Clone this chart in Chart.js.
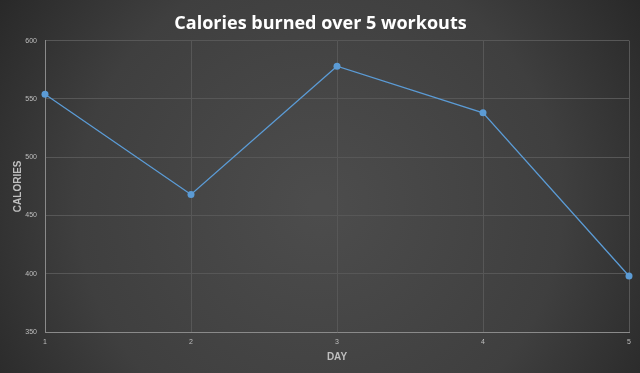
<!DOCTYPE html>
<html><head><meta charset="utf-8">
<script src="https://cdn.jsdelivr.net/npm/chart.js@4/dist/chart.umd.min.js"></script>
<style>html,body{margin:0;padding:0;background:#333;}#wrap{width:640px;height:373px;position:relative;}</style>
</head><body><div id="wrap"><canvas id="c" width="640" height="373"></canvas></div>
<script>
const days = ["1","2","3","4","5"];
const calories = [554, 468, 578, 538, 398];
const yTicks = [350, 400, 450, 500, 550, 600];

const bg = {
  id:'bg',
  beforeDraw(chart){
    const {ctx,width,height} = chart;
    ctx.save();
    const g = ctx.createRadialGradient(width*0.5,height*0.55,10,width*0.5,height*0.55,width*0.62);
    g.addColorStop(0,'#4c4c4c');
    g.addColorStop(0.6,'#3f3f3f');
    g.addColorStop(1,'#262626');
    ctx.fillStyle=g;
    ctx.fillRect(0,0,width,height);
    ctx.restore();
  }
};

new Chart(document.getElementById('c'),{
  type:'line',
  data:{labels:days,datasets:[{data:calories,borderColor:'#5b9bd5',backgroundColor:'#5b9bd5',borderWidth:1.3,pointRadius:3.5,pointBorderWidth:0,tension:0}]},
  options:{
    responsive:false,animation:false,
    layout:{padding:{left:12,right:11,top:0,bottom:10}},
    plugins:{
      legend:{display:false},tooltip:{enabled:false},
      title:{display:true,text:'Calories burned over 5 workouts',color:'#ffffff',font:{family:'Open Sans',size:18,weight:'bold'},padding:{top:13,bottom:6}}
    },
    scales:{
      x:{offset:false,
        grid:{color:'#575757',drawTicks:false,lineWidth:1},
        border:{color:'#8a8a8a',width:1},
        ticks:{color:'#bfbfbf',font:{family:'Liberation Sans',size:7},padding:6,maxRotation:0},
        title:{display:true,text:'DAY',color:'#bfbfbf',font:{family:'Liberation Sans',size:10,weight:'bold'},padding:{top:2,bottom:0}},
        afterFit(s){s.height=31;}
      },
      y:{min:350,max:600,
        afterBuildTicks(s){s.ticks=yTicks.map(v=>({value:v}));},
        grid:{color:'#575757',drawTicks:false},
        border:{color:'#8a8a8a',width:1},
        ticks:{color:'#bfbfbf',font:{family:'Liberation Sans',size:7},padding:8},
        title:{display:true,text:'CALORIES',color:'#bfbfbf',font:{family:'Liberation Sans',size:10,weight:'bold'},padding:{top:0,bottom:4}},
        afterFit(s){s.width=33;}
      }
    }
  },
  plugins:[bg]
});
</script></body></html>
